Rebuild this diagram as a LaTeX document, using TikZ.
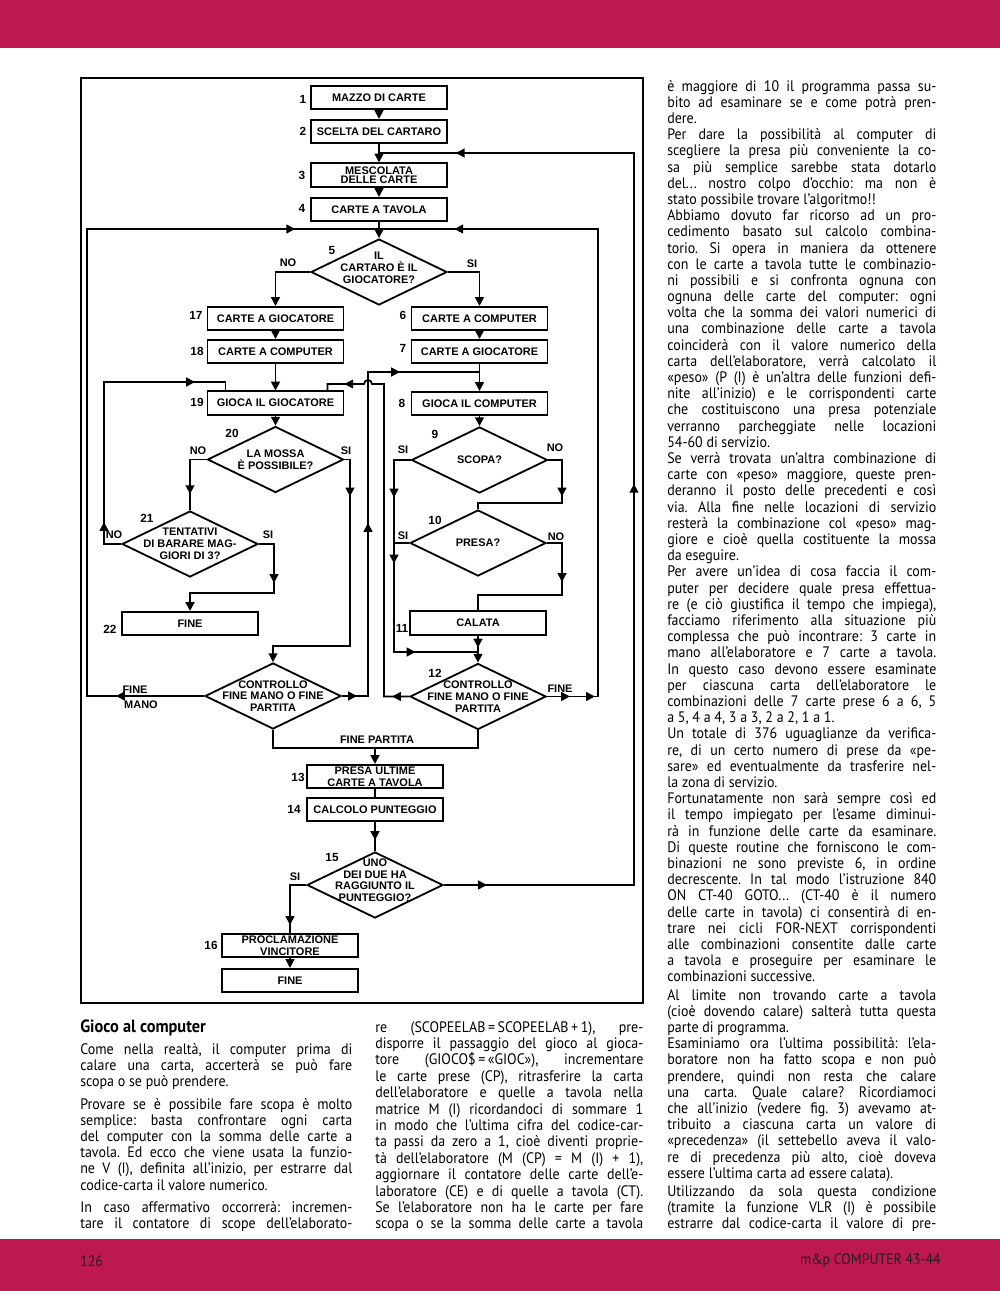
\documentclass[tikz,border=0pt]{standalone}
\usepackage{fontspec}
\setmainfont{PT Sans}[FakeStretch=0.92]
\newfontfamily\chartfont{Liberation Sans}
\usetikzlibrary{shapes.geometric, arrows.meta, decorations.markings}
\definecolor{mpred}{RGB}{189,24,80}
\setlength{\parindent}{0pt}
\sloppy
\frenchspacing

\tikzset{
    box/.style={draw, line width=1.3pt, minimum width=3.4cm, minimum height=0.58cm, inner sep=0pt, align=center, font=\chartfont\bfseries\fontsize{7.8}{8.4}\selectfont},
    decision/.style={diamond, draw, line width=1.3pt, minimum width=3.4cm, minimum height=1.65cm, inner sep=0pt},
    dtext/.style={align=center, inner sep=0pt, font=\chartfont\bfseries\fontsize{7.8}{8.4}\selectfont},
    num/.style={inner sep=0pt, font=\chartfont\bfseries\fontsize{8.4}{9}\selectfont},
    lab/.style={inner sep=0pt, font=\chartfont\bfseries\fontsize{7.8}{8.4}\selectfont},
    flow/.style={line width=1.3pt, >={Triangle[length=2.2mm, width=2.2mm]}},
    tipat/.style={postaction={decorate, decoration={markings, mark=at position #1 with {\arrow{Triangle[length=2.2mm, width=2.2mm]}}}}},
    textcol/.style={anchor=base west, inner sep=0pt, align=justify, font=\fontsize{10.8}{11.52}\selectfont},
    foot/.style={inner sep=0pt, text=black!88, font=\fontsize{10.7}{11}\selectfont},
}

\begin{document}
\begin{tikzpicture}[x=0.025cm, y=-0.025cm]
    \useasboundingbox (0,0) rectangle (1000,1291);

    % Page bars
    \fill[mpred] (0,0) rectangle (1000,48);
    \fill[mpred] (0,1239) rectangle (1000,1291);
    \node[foot, anchor=west] (page) at (80,1261) {126};
    \node[foot, anchor=east] (mag) at (941,1261) {m\&p COMPUTER 43-44};

    % Frame of the chart
    \draw[line width=1.1pt] (81,78) rectangle (643,1003);

    % Boxes and decisions
    \node[box] (b1) at (379,97.5) {MAZZO DI CARTE};
    \node[box] (b2) at (379,131.5) {SCELTA DEL CARTARO};
    \node[box] (b3) at (379,175) {MESCOLATA\\[-2pt]DELLE CARTE};
    \node[box] (b4) at (379,209.5) {CARTE A TAVOLA};
    \node[decision, label={[dtext, yshift=0.1cm]center:{IL\\CARTARO È IL\\GIOCATORE?}}] (d5) at (379,272) {};
    \node[box] (b17) at (275.5,318.5) {CARTE A GIOCATORE};
    \node[box] (b18) at (275.5,351.5) {CARTE A COMPUTER};
    \node[box] (b6) at (479.5,318.5) {CARTE A COMPUTER};
    \node[box] (b7) at (479.5,351.5) {CARTE A GIOCATORE};
    \node[box] (b19) at (275.5,403) {GIOCA IL GIOCATORE};
    \node[box] (b8) at (479.5,403.5) {GIOCA IL COMPUTER};
    \node[decision, label={[dtext]center:{LA MOSSA\\È POSSIBILE?}}] (d20) at (275.5,459.5) {};
    \node[decision, label={[dtext]center:{SCOPA?}}] (d9) at (479.5,460) {};
    \node[decision, label={[dtext]center:{TENTATIVI\\DI BARARE MAG-\\GIORI DI 3?}}] (d21) at (190,544) {};
    \node[decision, label={[dtext]center:{PRESA?}}] (d10) at (478,543) {};
    \node[box] (b22) at (190,623.5) {FINE};
    \node[box] (b11) at (478,623) {CALATA};
    \node[decision, label={[dtext]center:{CONTROLLO\\FINE MANO O FINE\\PARTITA}}] (dctrl) at (273,696) {};
    \node[decision, label={[dtext]center:{CONTROLLO\\FINE MANO O FINE\\PARTITA}}] (d12) at (478,696.5) {};
    \node[box] (b13) at (375,776.5) {PRESA ULTIME\\CARTE A TAVOLA};
    \node[box] (b14) at (375,809.5) {CALCOLO PUNTEGGIO};
    \node[decision, label={[dtext, yshift=0.12cm]center:{UNO\\DEI DUE HA\\RAGGIUNTO IL\\PUNTEGGIO?}}] (d15) at (375,885) {};
    \node[box] (b16) at (290,945.5) {PROCLAMAZIONE\\VINCITORE};
    \node[box] (bfine) at (290,980.5) {FINE};

    % Step numbers
    \foreach \n/\x/\y in {1/303/99, 2/303/131, 3/302/175, 4/302/208, 5/332/250, 6/403/315, 7/403/348,
        8/402/403, 9/435/434, 10/435/520, 11/402/628, 12/435/673, 13/298/777, 14/294/809,
        15/332/857, 16/211/945, 17/196/315, 18/197/351, 19/197/402, 20/232/433, 21/147/518, 22/110/629}
        \node[num] (n\n) at (\x,\y) {\n};

    % Branch labels
    \foreach \t/\x/\y/\k in {NO/288/263/a, SI/472/264/b, NO/198/451/c, SI/346/451/d, NO/114/535/e,
        SI/268/535/f, SI/403/450/g, NO/555/448/h, SI/403/536/i, NO/556/537/j, FINE/135/690/k,
        MANO/141/705/l, FINE/560/689/m, FINE PARTITA/377/740/n, SI/295/877/o}
        \node[lab] (l\k) at (\x,\y) {\t};

    % Junctions
    \coordinate (cret) at (379,153);
    \coordinate (ctop) at (379,229);
    \coordinate (cin) at (479.5,372);
    \coordinate (sj) at (394,543);
    \coordinate (cj) at (478,652);
    \coordinate (fp) at (375,748);

    % Main column
    \draw[flow,->] (b1) -- (b2);
    \draw[flow,->] (b2) -- (b3);
    \draw[flow,->] (b3) -- (b4);
    \draw[flow,->] (b4) -- (d5);
    \draw[flow,->] (d5.west) -| (b17.north);
    \draw[flow,->] (d5.east) -| (b6.north);
    \draw[flow,->] (b17) -- (b18);
    \draw[flow,->] (b18) -- (b19);
    \draw[flow,->] (b6) -- (b7);
    \draw[flow,->] (b7) -- (b8);
    \draw[flow,->] (b19) -- (d20);
    \draw[flow,->] (b8) -- (d9);

    % Player side
    \draw[flow, tipat=-0.4cm] (d20.west) -| (d21.north);
    \draw[flow, tipat=1.06cm, ->] (d20.east) -- (350,459.5) -- (350,646) -| (dctrl.north);
    \draw[flow, tipat=1.35cm, ->] (d21.east) -- (274,544) -- (274,593) -| (b22.north);
    \draw[flow, tipat=0.975cm, tipat=6.75cm] (d21.west) -- (104,544) -- (104,382) -| ([xshift=-1.25cm]b19.north);

    % Computer side
    \draw[flow, tipat=1.35cm, tipat=3cm, tipat=5.75cm] (d9.west) -- (394,460) -- (394,652) -- (cj);
    \draw[flow, tipat=1.25cm] (d9.east) -- (562,460) -- (562,503) -| (d10.north);
    \draw[flow] (d10.west) -- (sj);
    \draw[flow, tipat=1.35cm] (d10.east) -- (562,543) -- (562,595) -| (b11.north);
    \draw[flow, tipat=0.3cm, ->] (b11) -- (d12);

    % Loops after each turn
    \draw[flow, tipat=2.2cm, tipat=19.8cm] (dctrl.west) -- (87,696) -- (87,229) -- (ctop);
    \draw[flow, tipat=0.375cm, tipat=4.975cm, tipat=9.55cm] (dctrl.east) -- (368,696) -- (368,372) -- (cin);
    \draw[flow, tipat=0.425cm, tipat=9.54cm] (d12.west) -- (384,696.5) -- (384,384) -- (372,384)
        arc[start angle=0, end angle=180, radius=0.1cm] -- (327.5,384) -- ([xshift=1.3cm]b19.north);
    \draw[flow, tipat=0.575cm, tipat=1.2cm, tipat=16.55cm] (d12.east) -- (598,696.5) -- (598,229) -- (ctop);

    % End of the game
    \draw[flow] (dctrl.south) -- (273,748) -- (478,748) -- (d12.south);
    \draw[flow,->] (fp) -- (b13);
    \draw[flow] (b13) -- (b14);
    \draw[flow, tipat=0.45cm] (b14) -- (d15);
    \draw[flow, tipat=1.075cm, tipat=14.775cm, tipat=27.5cm] (d15.east) -- (634,885) -- (634,153) -- (cret);
    \draw[flow, tipat=-0.2cm] (d15.west) -| (b16.north);
    \draw[flow,->] (b16) -- (bfine);

    % Text columns
    \node[anchor=base west, inner sep=0pt, font=\bfseries\fontsize{12.6}{13}\selectfont] (head) at (80,1032) {Gioco al computer};
    \node[textcol, text width=6.8cm] (lcol) at (80,1054) {Come nella realtà, il computer prima di\linebreak
calare una carta, accerterà se può fare\linebreak
scopa o se può prendere.\par\vspace{4.6pt}
Provare se è possibile fare scopa è molto\linebreak
semplice: basta confrontare ogni carta\linebreak
del computer con la somma delle carte a\linebreak
tavola. Ed ecco che viene usata la funzio-\linebreak
ne V (I), definita all'inizio, per estrarre dal\linebreak
codice-carta il valore numerico.\par\vspace{4.6pt}
In caso affermativo occorrerà: incremen-\linebreak
tare il contatore di scope dell'elaborato-\linebreak};
    \node[textcol, text width=6.7cm, font=\fontsize{10.8}{11.67}\selectfont] (mcol) at (375,1032) {re (SCOPEELAB\,=\,SCOPEELAB\,+\,1), pre-\linebreak
disporre il passaggio del gioco al gioca-\linebreak
tore (GIOCO\$\,=\,«GIOC»), incrementare\linebreak
le carte prese (CP), ritrasferire la carta\linebreak
dell'elaboratore e quelle a tavola nella\linebreak
matrice M (I) ricordandoci di sommare 1\linebreak
in modo che l'ultima cifra del codice-car-\linebreak
ta passi da zero a 1, cioè diventi proprie-\linebreak
tà dell'elaboratore (M (CP) = M (I) + 1),\linebreak
aggiornare il contatore delle carte dell'e-\linebreak
laboratore (CE) e di quelle a tavola (CT).\linebreak
Se l'elaboratore non ha le carte per fare\linebreak
scopa o se la somma delle carte a tavola\linebreak};
    \node[textcol, text width=6.725cm] (rcol) at (667,91) {è maggiore di 10 il programma passa su-\linebreak
bito ad esaminare se e come potrà pren-\linebreak
dere.\par
Per dare la possibilità al computer di\linebreak
scegliere la presa più conveniente la co-\linebreak
sa più semplice sarebbe stata dotarlo\linebreak
del... nostro colpo d'occhio: ma non è\linebreak
stato possibile trovare l'algoritmo!!\par
Abbiamo dovuto far ricorso ad un pro-\linebreak
cedimento basato sul calcolo combina-\linebreak
torio. Si opera in maniera da ottenere\linebreak
con le carte a tavola tutte le combinazio-\linebreak
ni possibili e si confronta ognuna con\linebreak
ognuna delle carte del computer: ogni\linebreak
volta che la somma dei valori numerici di\linebreak
una combinazione delle carte a tavola\linebreak
coinciderà con il valore numerico della\linebreak
carta dell'elaboratore, verrà calcolato il\linebreak
«peso» (P (I) è un'altra delle funzioni defi-\linebreak
nite all'inizio) e le corrispondenti carte\linebreak
che costituiscono una presa potenziale\linebreak
verranno parcheggiate nelle locazioni\linebreak
54-60 di servizio.\par
Se verrà trovata un'altra combinazione di\linebreak
carte con «peso» maggiore, queste pren-\linebreak
deranno il posto delle precedenti e così\linebreak
via. Alla fine nelle locazioni di servizio\linebreak
resterà la combinazione col «peso» mag-\linebreak
giore e cioè quella costituente la mossa\linebreak
da eseguire.\par
Per avere un'idea di cosa faccia il com-\linebreak
puter per decidere quale presa effettua-\linebreak
re (e ciò giustifica il tempo che impiega),\linebreak
facciamo riferimento alla situazione più\linebreak
complessa che può incontrare: 3 carte in\linebreak
mano all'elaboratore e 7 carte a tavola.\linebreak
In questo caso devono essere esaminate\linebreak
per ciascuna carta dell'elaboratore le\linebreak
combinazioni delle 7 carte prese 6 a 6, 5\linebreak
a 5, 4 a 4, 3 a 3, 2 a 2, 1 a 1.\par
Un totale di 376 uguaglianze da verifica-\linebreak
re, di un certo numero di prese da «pe-\linebreak
sare» ed eventualmente da trasferire nel-\linebreak
la zona di servizio.\par
Fortunatamente non sarà sempre così ed\linebreak
il tempo impiegato per l'esame diminui-\linebreak
rà in funzione delle carte da esaminare.\linebreak
Di queste routine che forniscono le com-\linebreak
binazioni ne sono previste 6, in ordine\linebreak
decrescente. In tal modo l'istruzione 840\linebreak
ON CT-40 GOTO... (CT-40 è il numero\linebreak
delle carte in tavola) ci consentirà di en-\linebreak
trare nei cicli FOR-NEXT corrispondenti\linebreak
alle combinazioni consentite dalle carte\linebreak
a tavola e proseguire per esaminare le\linebreak
combinazioni successive.\par\vspace{1.4pt}
Al limite non trovando carte a tavola\linebreak
(cioè dovendo calare) salterà tutta questa\linebreak
parte di programma.\par
Esaminiamo ora l'ultima possibilità: l'ela-\linebreak
boratore non ha fatto scopa e non può\linebreak
prendere, quindi non resta che calare\linebreak
una carta. Quale calare? Ricordiamoci\linebreak
che all'inizio (vedere fig. 3) avevamo at-\linebreak
tribuito a ciascuna carta un valore di\linebreak
«precedenza» (il settebello aveva il valo-\linebreak
re di precedenza più alto, cioè doveva\linebreak
essere l'ultima carta ad essere calata).\par\vspace{1.4pt}
Utilizzando da sola questa condizione\linebreak
(tramite la funzione VLR (I) è possibile\linebreak
estrarre dal codice-carta il valore di pre-\linebreak};
\end{tikzpicture}
\end{document}
